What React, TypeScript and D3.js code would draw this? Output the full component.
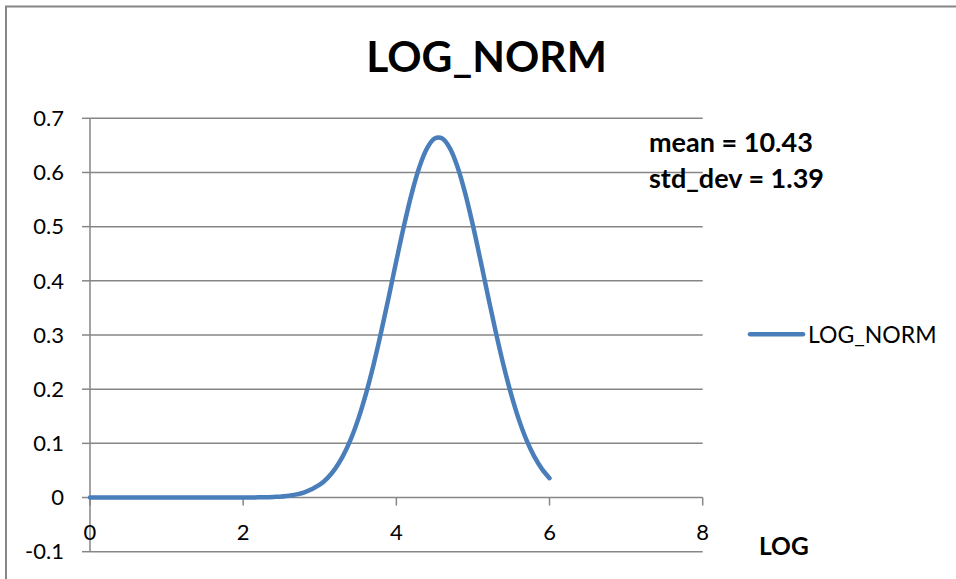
import React from "react";
import * as d3 from "d3";

// LOG_NORM density curve (x = LOG, y = density)
const xValues = [
  0, 0.5, 1.0, 1.5, 2.0, 2.2, 2.4, 2.6, 2.8, 3.0, 3.1, 3.2, 3.3, 3.4, 3.5, 3.6,
  3.7, 3.8, 3.9, 4.0, 4.1, 4.2, 4.3, 4.4, 4.5, 4.6, 4.7, 4.8, 4.9, 5.0, 5.1,
  5.2, 5.3, 5.4, 5.5, 5.6, 5.7, 5.8, 5.9, 6.0,
];
const yValues = [
  0, 0, 0, 0, 0.0001, 0.0003, 0.0011, 0.0034, 0.0095, 0.0236, 0.0358, 0.0529,
  0.0759, 0.1059, 0.1438, 0.1899, 0.2438, 0.3044, 0.3698, 0.4369, 0.5019,
  0.561, 0.6097, 0.6445, 0.6627, 0.6627, 0.6445, 0.6097, 0.561, 0.5019, 0.4369,
  0.3698, 0.3044, 0.2438, 0.1899, 0.1438, 0.1059, 0.0759, 0.0529, 0.0358,
];

const xTicks = [0, 2, 4, 6, 8];
const yTicks = [-0.1, 0, 0.1, 0.2, 0.3, 0.4, 0.5, 0.6, 0.7];

const chartTitle = "LOG_NORM";
const seriesName = "LOG_NORM";
const xAxisTitle = "LOG";
const notes = ["mean = 10.43", "std_dev = 1.39"];

const W = 956;
const H = 579;
const FONT = "Lato, 'Open Sans', sans-serif";
const GRID = "#868686";
const BLUE = "#4a7ebb";

export default function App() {
  const x = d3.scaleLinear().domain([0, 8]).range([90, 702.7]);
  const y = d3.scaleLinear().domain([-0.1, 0.7]).range([551.7, 118.3]);

  const pts: [number, number][] = xValues.map((v, i) => [v, yValues[i]]);
  const line = d3
    .line<[number, number]>()
    .x((d) => x(d[0]))
    .y((d) => y(d[1]))
    .curve(d3.curveCatmullRom.alpha(0.5));

  const y0 = y(0);

  return (
    <svg
      width={W}
      height={H}
      style={{ position: "absolute", left: 0, top: 0, background: "#fff" }}
      fontFamily={FONT}
    >
      <rect x={0} y={0} width={W} height={H} fill="#fff" />
      {/* outer chart frame */}
      <path d={`M6,${H + 2} V6.5 H${W + 2}`} fill="none" stroke={GRID} strokeWidth={2} />

      {/* title */}
      <text x={486.5} y={71.5} textAnchor="middle" fontSize={42.5} fontWeight={700} fill="#000">
        {chartTitle}
      </text>

      {/* horizontal gridlines */}
      {yTicks
        .filter((t) => t !== 0)
        .map((t) => (
          <line key={t} x1={x(0)} x2={x(8)} y1={y(t)} y2={y(t)} stroke={GRID} strokeWidth={1.5} />
        ))}

      {/* y axis with ticks */}
      <line x1={x(0)} x2={x(0)} y1={y(0.7)} y2={y(-0.1)} stroke={GRID} strokeWidth={1.5} />
      {yTicks.map((t) => (
        <g key={t}>
          <line x1={x(0) - 8} x2={x(0)} y1={y(t)} y2={y(t)} stroke={GRID} strokeWidth={1.5} />
          <text x={64} y={y(t)} dy="0.35em" textAnchor="end" fontSize={22} fill="#000">
            {t === 0 ? "0" : t.toFixed(1)}
          </text>
        </g>
      ))}

      {/* x axis crossing at y = 0 */}
      <line x1={x(0)} x2={x(8)} y1={y0} y2={y0} stroke={GRID} strokeWidth={1.5} />
      {xTicks.map((t) => (
        <g key={t}>
          <line x1={x(t)} x2={x(t)} y1={y0} y2={y0 + 8} stroke={GRID} strokeWidth={1.5} />
          <text x={x(t)} y={540} textAnchor="middle" fontSize={22} fill="#000">
            {t}
          </text>
        </g>
      ))}

      {/* axis title */}
      <text x={759} y={555} fontSize={24.5} fontWeight={700} fill="#000">
        {xAxisTitle}
      </text>

      {/* series */}
      <path
        d={line(pts) ?? ""}
        fill="none"
        stroke={BLUE}
        strokeWidth={4.5}
        strokeLinecap="round"
        strokeLinejoin="round"
      />

      {/* annotation */}
      {notes.map((n, i) => (
        <text key={n} x={649} y={152 + i * 36} fontSize={27} fontWeight={700} fill="#000">
          {n}
        </text>
      ))}

      {/* legend */}
      <line x1={750} x2={803} y1={334.3} y2={334.3} stroke={BLUE} strokeWidth={4.5} strokeLinecap="round" />
      <text x={808} y={343} fontSize={23} fill="#000">
        {seriesName}
      </text>
    </svg>
  );
}
